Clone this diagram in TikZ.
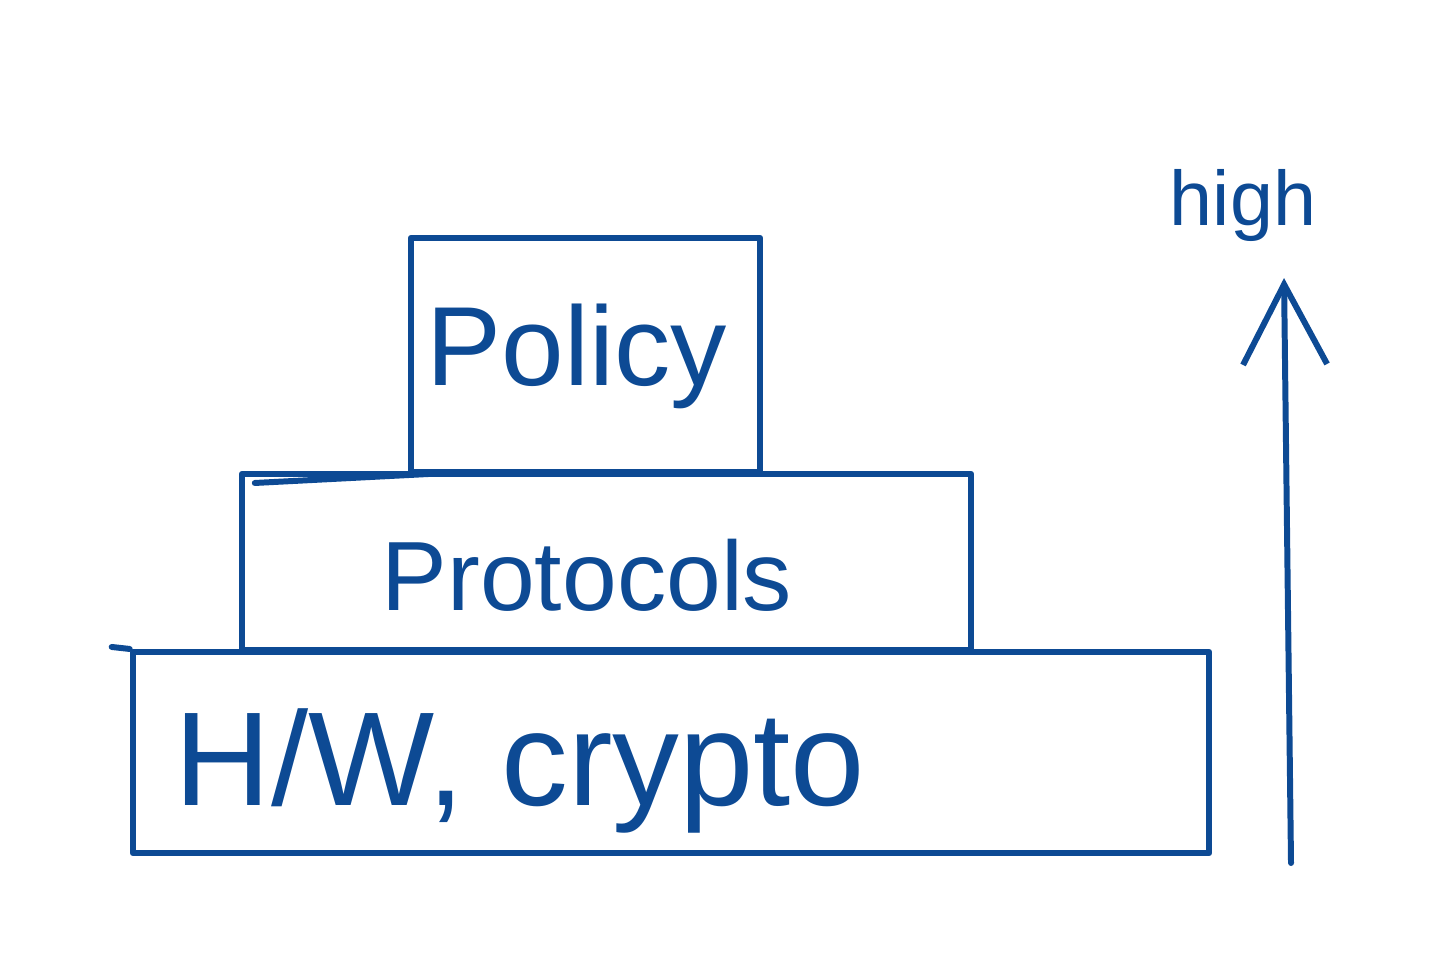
\documentclass[tikz,border=0pt]{standalone}
\usepackage{fontspec}
\setmainfont{Liberation Sans}
\usetikzlibrary{arrows.meta,positioning}
\definecolor{ink}{HTML}{0D4A94}
\tikzset{
  layer/.style={draw=ink, line width=1.7pt, inner sep=0pt},
  scrawl/.style={text=ink, anchor=base},
  pen/.style={draw=ink, line width=1.7pt},
}

\begin{document}
\begin{tikzpicture}[x=0.01cm,y=-0.01cm,>=Stealth,line cap=round,line join=round]
            \useasboundingbox (0,0) rectangle (1440,954);
            % the three layers
            \node[layer, minimum width=10.76cm, minimum height=2.01cm] (hw) at (671,752.5) {};
            \node[layer, minimum width=7.29cm, minimum height=1.76cm] (proto) at (606.5,562) {};
            \node[layer, minimum width=3.49cm, minimum height=2.34cm] (policy) at (585.5,355) {};
            \draw[pen] (hw.north west) -- ++(-18,-2);
            \draw[pen] ([xshift=0.16cm,yshift=-0.12cm]proto.north west) -- ++(174,-9);
            % labels
            \node[scrawl, font=\fontsize{38}{44}\selectfont] (hwtxt) at (520,805) {H/W, crypto};
            \node[scrawl, font=\fontsize{28}{34}\selectfont] (prototxt) at (587,610) {Protocols};
            \node[scrawl, font=\fontsize{32}{38}\selectfont] (policytxt) at (577,385) {Policy};
            % level arrow
            \coordinate (base) at (1291,863);
            \coordinate (peak) at (1284,278);
            \draw[pen, -{Straight Barb[length=8mm,width=8.4mm,line width=1.7pt]}] (base) -- (peak);
            \node[scrawl, font=\fontsize{22}{26}\selectfont] (high) at (1243,225) {high};
        \end{tikzpicture}
\end{document}
